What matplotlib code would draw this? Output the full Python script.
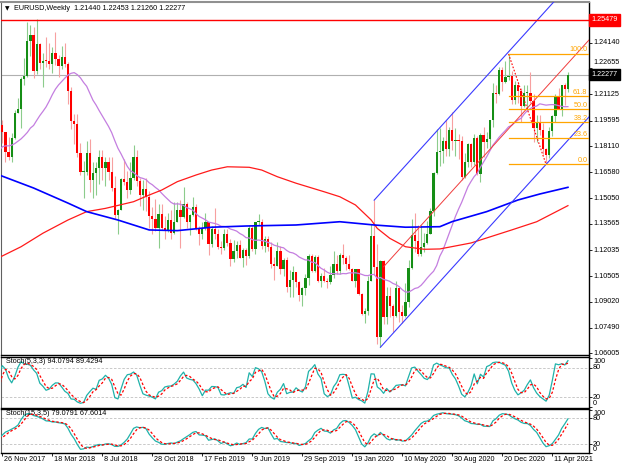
import numpy as np
import pandas as pd
import matplotlib
matplotlib.use('Agg')
import matplotlib.pyplot as plt
from matplotlib.transforms import blended_transform_factory

plt.rcParams['font.family'] = ['Liberation Sans', 'DejaVu Sans']
FS = 5.2

# weekly EURUSD bars, 25 Jun 2017 .. 16 May 2021 (open = previous close)
# the first 22 bars only feed the indicators, they sit left of the window
n_hist = 22
first_open = 1.1195
high = [
    1.1445, 1.1445, 1.1490, 1.1680, 1.1775, 1.1910, 1.1845, 1.1825, 1.1940, 1.2070, 1.2092,
    1.2035, 1.2035, 1.1960, 1.1835, 1.1880, 1.1860, 1.1880, 1.1690, 1.1665, 1.1860, 1.1960,
    1.1961, 1.1880, 1.1863, 1.1887, 1.2023, 1.2089, 1.2217, 1.2323, 1.2537, 1.2520, 1.2508,
    1.2556, 1.2415, 1.2355, 1.2446, 1.2413, 1.2388, 1.2476, 1.2345, 1.2396, 1.2414, 1.2302,
    1.2155, 1.1997, 1.1997, 1.1830, 1.1724, 1.1840, 1.1852, 1.1720, 1.1720, 1.1790, 1.1790,
    1.1745, 1.1750, 1.1747, 1.1637, 1.1445, 1.1625, 1.1734, 1.1665, 1.1720, 1.1815, 1.1790,
    1.1625, 1.1610, 1.1622, 1.1550, 1.1455, 1.1500, 1.1474, 1.1472, 1.1402, 1.1420, 1.1440,
    1.1486, 1.1485, 1.1497, 1.1570, 1.1487, 1.1417, 1.1515, 1.1470, 1.1342, 1.1370, 1.1420,
    1.1363, 1.1345, 1.1448, 1.1326, 1.1255, 1.1325, 1.1324, 1.1270, 1.1265, 1.1255, 1.1265,
    1.1215, 1.1215, 1.1347, 1.1348, 1.1370, 1.1412, 1.1385, 1.1286, 1.1285, 1.1250, 1.1165,
    1.1250, 1.1230, 1.1160, 1.1165, 1.1085, 1.1110, 1.1075, 1.1025, 1.0990, 1.1065, 1.1180,
    1.1180, 1.1176, 1.1175, 1.1070, 1.1097, 1.1040, 1.1110, 1.1200, 1.1175, 1.1185, 1.1240,
    1.1170, 1.1175, 1.1100, 1.1095, 1.1095, 1.0955, 1.0865, 1.1053, 1.1355, 1.1495, 1.1237,
    1.1147, 1.1145, 1.0990, 1.0990, 1.0890, 1.1020, 1.0980, 1.0880, 1.1010, 1.1145, 1.1385,
    1.1422, 1.1350, 1.1350, 1.1303, 1.1375, 1.1452, 1.1660, 1.1909, 1.1915, 1.1865, 1.1966,
    1.1925, 1.2011, 1.1918, 1.1883, 1.1870, 1.1770, 1.1830, 1.1830, 1.1880, 1.1870, 1.1890,
    1.1920, 1.1895, 1.1965, 1.2177, 1.2165, 1.2273, 1.2273, 1.2310, 1.2349, 1.2250, 1.2190,
    1.2185, 1.2150, 1.2170, 1.2170, 1.2245, 1.2115, 1.1990, 1.1990, 1.1945, 1.1800, 1.1925,
    1.1995, 1.2117, 1.2150, 1.2170, 1.2182, 1.22453,
]
low = [
    1.1170, 1.1310, 1.1370, 1.1455, 1.1610, 1.1730, 1.1690, 1.1660, 1.1725, 1.1820, 1.1855,
    1.1838, 1.1860, 1.1715, 1.1670, 1.1730, 1.1730, 1.1575, 1.1575, 1.1555, 1.1630, 1.1715,
    1.1829, 1.1717, 1.1730, 1.1718, 1.1854, 1.2004, 1.1916, 1.2165, 1.2215, 1.2335, 1.2206,
    1.2233, 1.2260, 1.2155, 1.2272, 1.2259, 1.2240, 1.2287, 1.2215, 1.2260, 1.2270, 1.2055,
    1.1910, 1.1823, 1.1750, 1.1644, 1.1510, 1.1640, 1.1541, 1.1508, 1.1527, 1.1590, 1.1614,
    1.1575, 1.1615, 1.1550, 1.1385, 1.1300, 1.1440, 1.1584, 1.1510, 1.1530, 1.1610, 1.1575,
    1.1463, 1.1435, 1.1430, 1.1335, 1.1300, 1.1315, 1.1215, 1.1320, 1.1267, 1.1310, 1.1270,
    1.1300, 1.1365, 1.1215, 1.1390, 1.1335, 1.1290, 1.1405, 1.1320, 1.1235, 1.1270, 1.1320,
    1.1176, 1.1220, 1.1270, 1.1210, 1.1183, 1.1205, 1.1228, 1.1110, 1.1135, 1.1160, 1.1155,
    1.1105, 1.1115, 1.1160, 1.1200, 1.1180, 1.1350, 1.1210, 1.1195, 1.1200, 1.1100, 1.1027,
    1.1110, 1.1065, 1.1050, 1.0960, 1.0927, 1.0927, 1.0990, 1.0905, 1.0879, 1.0942, 1.1000,
    1.1073, 1.1073, 1.1015, 1.0990, 1.1015, 1.0981, 1.1005, 1.1040, 1.1065, 1.1065, 1.1125,
    1.1085, 1.1085, 1.1020, 1.0990, 1.0940, 1.0827, 1.0778, 1.0825, 1.1020, 1.1055, 1.0654,
    1.0636, 1.0770, 1.0770, 1.0810, 1.0727, 1.0810, 1.0782, 1.0775, 1.0810, 1.0870, 1.1090,
    1.1195, 1.1170, 1.1168, 1.1190, 1.1240, 1.1300, 1.1400, 1.1650, 1.1695, 1.1710, 1.1755,
    1.1755, 1.1790, 1.1752, 1.1737, 1.1612, 1.1625, 1.1690, 1.1690, 1.1700, 1.1640, 1.1603,
    1.1745, 1.1800, 1.1800, 1.1925, 1.2060, 1.2110, 1.2130, 1.2180, 1.2195, 1.2055, 1.2055,
    1.2060, 1.1953, 1.2040, 1.2023, 1.2060, 1.1835, 1.1835, 1.1875, 1.1762, 1.1704, 1.1740,
    1.1870, 1.1950, 1.2025, 1.1985, 1.2050, 1.21260,
]
close = [
    1.1425, 1.1400, 1.1470, 1.1665, 1.1750, 1.1775, 1.1820, 1.1760, 1.1925, 1.1860, 1.2035,
    1.1945, 1.1950, 1.1815, 1.1730, 1.1820, 1.1785, 1.1610, 1.1605, 1.1665, 1.1790, 1.1935,
    1.1894, 1.1774, 1.1750, 1.1860, 1.2005, 1.2030, 1.2200, 1.2220, 1.2427, 1.2460, 1.2250,
    1.2405, 1.2295, 1.2310, 1.2306, 1.2290, 1.2353, 1.2320, 1.2280, 1.2330, 1.2288, 1.2130,
    1.1960, 1.1940, 1.1770, 1.1660, 1.1660, 1.1770, 1.1610, 1.1655, 1.1685, 1.1745, 1.1685,
    1.1720, 1.1660, 1.1568, 1.1410, 1.1440, 1.1620, 1.1600, 1.1555, 1.1625, 1.1745, 1.1605,
    1.1525, 1.1560, 1.1515, 1.1400, 1.1385, 1.1335, 1.1415, 1.1335, 1.1315, 1.1380, 1.1305,
    1.1370, 1.1440, 1.1395, 1.1470, 1.1365, 1.1410, 1.1455, 1.1325, 1.1295, 1.1335, 1.1365,
    1.1240, 1.1325, 1.1300, 1.1220, 1.1215, 1.1300, 1.1245, 1.1150, 1.1200, 1.1235, 1.1160,
    1.1205, 1.1170, 1.1335, 1.1210, 1.1370, 1.1370, 1.1225, 1.1270, 1.1220, 1.1125, 1.1110,
    1.1200, 1.1090, 1.1145, 1.0990, 1.1030, 1.1075, 1.1015, 1.0940, 1.0980, 1.1040, 1.1170,
    1.1080, 1.1165, 1.1020, 1.1050, 1.1020, 1.1015, 1.1060, 1.1120, 1.1080, 1.1175, 1.1160,
    1.1120, 1.1090, 1.1025, 1.1090, 1.0945, 1.0830, 1.0845, 1.1025, 1.1285, 1.1105, 1.0695,
    1.1140, 1.0810, 1.0935, 1.0875, 1.0820, 1.0980, 1.0840, 1.0820, 1.0900, 1.1100, 1.1290,
    1.1255, 1.1180, 1.1220, 1.1245, 1.1300, 1.1430, 1.1655, 1.1775, 1.1785, 1.1840, 1.1795,
    1.1905, 1.1840, 1.1845, 1.1840, 1.1630, 1.1715, 1.1825, 1.1720, 1.1860, 1.1645, 1.1875,
    1.1835, 1.1855, 1.1965, 1.2120, 1.2115, 1.2255, 1.2185, 1.2215, 1.2220, 1.2080, 1.2170,
    1.2135, 1.2045, 1.2120, 1.2120, 1.2075, 1.1915, 1.1950, 1.1905, 1.1795, 1.1760, 1.1900,
    1.1985, 1.2095, 1.2020, 1.2165, 1.2144, 1.22277,
]

date_labels = ['26 Nov 2017', '18 Mar 2018', '8 Jul 2018', '28 Oct 2018', '17 Feb 2019',
               '9 Jun 2019', '29 Sep 2019', '19 Jan 2020', '10 May 2020', '30 Aug 2020',
               '20 Dec 2020', '11 Apr 2021']
label_step = 16  # weeks between date labels

price_ticks = [1.06005, 1.07490, 1.09020, 1.10505, 1.12035, 1.13565, 1.15050, 1.16580,
               1.18110, 1.19595, 1.21125, 1.22655, 1.24140]

# slow moving averages (100 and 200 weeks): bar, price
ma100_bar = [-1, 6, 13, 21, 27, 33, 42, 47, 51, 56, 62, 67, 72, 79, 83, 88, 94, 103, 108,
             113, 118, 120, 124, 129, 135, 140, 150, 163, 171, 181]
ma100_val = [1.1160, 1.1223, 1.1302, 1.1379, 1.1428, 1.1447, 1.1486, 1.1525, 1.1554, 1.1603,
             1.1642, 1.1671, 1.1690, 1.1687, 1.1671, 1.1632, 1.1594, 1.1544, 1.1515, 1.1467,
             1.1380, 1.1330, 1.1272, 1.1223, 1.1208, 1.1210, 1.1245, 1.1321, 1.1369, 1.1463]
ma200_bar = [-1, 10, 21, 27, 37, 47, 56, 67, 78, 94, 108, 119, 129, 140, 144, 155, 165, 172, 181]
ma200_val = [1.1642, 1.1566, 1.1478, 1.1428, 1.1379, 1.1321, 1.1317, 1.1337, 1.1344, 1.1350,
             1.1369, 1.1350, 1.1337, 1.1340, 1.1370, 1.1428, 1.1496, 1.1531, 1.1570]

# drawing objects: channel, fibo, horizontal line
chan_base = [(121, 1.0636), (174, 1.1704)]
chan_top = (119, 1.1495)
chan_mid_start = 122
fib_high = (162, 1.2349)
fib_low = (174, 1.1704)
fib_levels = [0.0, 23.6, 38.2, 50.0, 61.8, 100.0]
resistance = 1.25479
bid = 1.22277

title_txt = 'EURUSD,Weekly  1.21440 1.22453 1.21260 1.22277'
stoch1_txt = 'Stoch(5,3,3) 94.0794 89.4294'
stoch2_txt = 'Stoch(15,3,5) 79.0791 67.6014'

W, H = 625, 469
fig = plt.figure(figsize=(W / 100, H / 100), dpi=100)
fig.patch.set_facecolor('white')


def px_axes(x0, y0, x1, y1):
    return fig.add_axes([x0 / W, 1 - y1 / H, (x1 - x0) / W, (y1 - y0) / H])


ax = px_axes(1.5, 2, 589, 355)
ax_s1 = px_axes(1.5, 356.5, 589, 407.5)
ax_s2 = px_axes(1.5, 408.5, 589, 453)

xmin, xmax = -0.26, 187.74
px_per_price = 1712.0
ylo = 1.06005 - 1.7 / px_per_price
yhi = 1.06005 + 351.3 / px_per_price

h = np.array(high)
l = np.array(low)
c = np.array(close)
o = np.r_[first_open, c[:-1]]
x = np.arange(len(c)) - n_hist

# candles
up = c >= o
body_lo = np.minimum(o, c)
body_h = np.maximum(np.abs(c - o), 1.0 / px_per_price)
ax.vlines(x[up], l[up], h[up], color='#8ccc8c', lw=0.8, zorder=3)
ax.vlines(x[~up], l[~up], h[~up], color='#f7a0a0', lw=0.8, zorder=3)
ax.bar(x[up], body_h[up], bottom=body_lo[up], width=0.72, color='#158e15', lw=0, zorder=4)
ax.bar(x[~up], body_h[~up], bottom=body_lo[~up], width=0.72, color='#ff0000', lw=0, zorder=4)

# moving averages
sma20 = pd.Series(c).rolling(20).mean()
ax.plot(x, sma20, color='#c47ee0', lw=0.9, zorder=5)
ax.plot(ma100_bar, ma100_val, color='#ff1a1a', lw=0.9, zorder=5)
ax.plot(ma200_bar, ma200_val, color='#0000ff', lw=1.2, zorder=5)

# channel (rays to the right)
(b0, p0), (b1, p1) = chan_base
slope = (p1 - p0) / (b1 - b0)
ax.plot([b0, xmax], [p0, p0 + slope * (xmax - b0)], color='#3a3aff', lw=0.8, zorder=6)
ax.plot([chan_top[0], xmax], [chan_top[1], chan_top[1] + slope * (xmax - chan_top[0])],
        color='#3a3aff', lw=0.8, zorder=6)
mid0 = (p0 + slope * (chan_mid_start - b0) + chan_top[1] + slope * (chan_mid_start - chan_top[0])) / 2
ax.plot([chan_mid_start, xmax], [mid0, mid0 + slope * (xmax - chan_mid_start)],
        color='#f03c3c', lw=0.7, zorder=6)

# fibonacci retracement
ax.plot([fib_high[0], fib_low[0]], [fib_high[1], fib_low[1]], color='#ff0000', lw=0.8,
        ls=(0, (1.5, 1.5)), zorder=6)
tr = blended_transform_factory(ax.transAxes, ax.transData)
for lev in fib_levels:
    pv = fib_low[1] + (fib_high[1] - fib_low[1]) * lev / 100
    ax.plot([fib_high[0], xmax], [pv, pv], color='#ffa500', lw=0.9, zorder=6)
    ax.text(1 - 1.5 / 587.5, pv + 0.6 / px_per_price, f'{lev:.1f}', transform=tr,
            ha='right', va='bottom', fontsize=FS, color='#ffa500', zorder=7)

ax.axhline(resistance, color='#ff0000', lw=1.0, zorder=6)
ax.axhline(bid, color='#b0b0b0', lw=0.8, zorder=2)

ax.set_xlim(xmin, xmax)
ax.set_ylim(ylo, yhi)
ax.set_xticks([])
ax.yaxis.tick_right()
ax.set_yticks(price_ticks)
ax.tick_params(axis='y', length=2.2, width=0.6, labelright=False, color='black')
for v in price_ticks:
    dy = 5.5 / px_per_price if v == 1.22655 else 0
    ax.text(1 + 4 / 587.5, v + dy, f'{v:.5f}', transform=tr, ha='left', va='center',
            fontsize=FS, color='black', clip_on=False)
ax.text(1 + 2.5 / 587.5, resistance, f'{resistance:.5f}', transform=tr, ha='left',
        va='center', fontsize=FS, color='white', clip_on=False, zorder=10,
        bbox=dict(boxstyle='square,pad=0.3', fc='#ff0000', ec='#ff0000'))
ax.text(1 + 2.5 / 587.5, bid, f'{bid:.5f}', transform=tr, ha='left',
        va='center', fontsize=FS, color='white', clip_on=False, zorder=10,
        bbox=dict(boxstyle='square,pad=0.3', fc='black', ec='black'))

fig.text(7 / W, 1 - 8.5 / H, '\u25bc', fontsize=4.2, ha='center', va='center',
         family=['DejaVu Sans'])
fig.text(14 / W, 1 - 8 / H, title_txt, fontsize=FS, ha='left', va='center')


# stochastic oscillators
def stochastic(k, d, slow):
    hs, ls, cs = pd.Series(h), pd.Series(l), pd.Series(c)
    hh = hs.rolling(k).max()
    ll = ls.rolling(k).min()
    main = 100 * (cs - ll).rolling(slow).sum() / (hh - ll).rolling(slow).sum()
    return main, main.rolling(d).mean()


for sax, params, txt, ylim in [(ax_s1, (5, 3, 3), stoch1_txt, (-0.6, 102.6)),
                               (ax_s2, (15, 3, 5), stoch2_txt, (-0.9, 102.8))]:
    main, sig = stochastic(*params)
    sax.axhline(80, color='#c0c0c0', lw=0.6, ls=(0, (3, 2)))
    sax.axhline(20, color='#c0c0c0', lw=0.6, ls=(0, (3, 2)))
    sax.plot(x, main, color='#20b2aa', lw=0.9, zorder=3)
    sax.plot(x, sig, color='#ff0000', lw=0.9, ls=(0, (2, 1.6)), zorder=4)
    sax.set_xlim(xmin, xmax)
    sax.set_ylim(*ylim)
    sax.yaxis.tick_right()
    sax.set_yticks([0, 20, 80, 100])
    sax.tick_params(axis='y', length=2.2, width=0.6, labelright=False)
    sax.set_xticks([])
    trs = blended_transform_factory(sax.transAxes, sax.transData)
    for v, va in [(100, 'top'), (80, 'center'), (20, 'center'), (0, 'bottom')]:
        sax.text(1 + 4 / 587.5, v, str(v), transform=trs, ha='left', va=va,
                 fontsize=FS, clip_on=False)
    sax.text(4.5 / 587.5, 100, txt, transform=trs, ha='left', va='top', fontsize=FS)

for a in (ax, ax_s1, ax_s2):
    a.set_facecolor('white')
    for side in ('top', 'bottom', 'right'):
        a.spines[side].set_color('black')
        a.spines[side].set_linewidth(1.0)
    a.spines['left'].set_color('#606060')
    a.spines['left'].set_linewidth(0.8)
ax.spines['top'].set_color('#909090')
ax.spines['top'].set_linewidth(1.5)

# date labels under the last panel
tick_pos = [label_step * k for k in range(len(date_labels))]
ax_s2.set_xticks(tick_pos)
ax_s2.tick_params(axis='x', length=2.0, width=0.6, labelbottom=False)
trx = blended_transform_factory(ax_s2.transData, ax_s2.transAxes)
for pos, lab in zip(tick_pos, date_labels):
    ax_s2.text(pos + 0.55, -6.0 / 44.5, lab, transform=trx, ha='left', va='center',
               fontsize=FS, clip_on=False)

fig.savefig('out.png', dpi=100, facecolor='white')
